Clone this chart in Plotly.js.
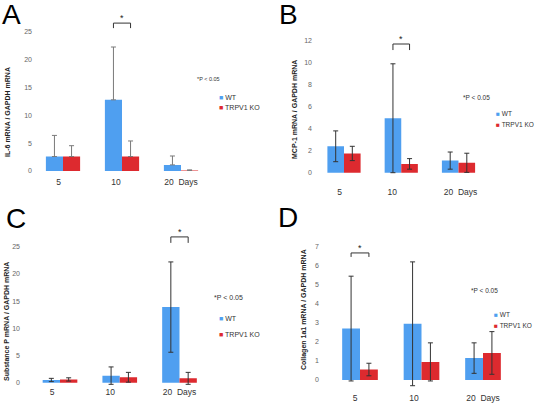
<!DOCTYPE html>
<html>
<head>
<meta charset="utf-8">
<script src="https://cdn.plot.ly/plotly-3.0.1.min.js"></script>
<style>html,body{margin:0;padding:0;background:#fff;}#chart{width:535px;height:408px;}</style>
</head>
<body>
<div id="chart"></div>
<script>
// ---- data ----
const days = ['5', '10', '20\u00a0\u00a0Days'];
const seriesNames = ['WT', 'TRPV1 KO'];
const panelLetters = ['A', 'B', 'C', 'D'];
const yTitles = ['IL-6 mRNA / GAPDH mRNA', 'MCP-1 mRNA / GAPDH mRNA', 'Substance P mRNA / GAPDH mRNA', 'Collagen 1a1 mRNA / GAPDH mRNA'];
const sigText = '*P < 0.05';

const il6WT = [2.6, 12.8, 1.1];
const il6WTerr = [3.8, 9.5, 1.6];
const il6KO = [2.6, 2.6, 0.1];
const il6KOerr = [1.95, 2.8, 0.1];

const mcp1WT = [2.4, 4.95, 1.1];
const mcp1WTerr = [1.4, 4.95, 0.78];
const mcp1KO = [1.75, 0.8, 0.9];
const mcp1KOerr = [0.65, 0.48, 0.87];

const subPWT = [0.5, 1.3, 13.9];
const subPWTerr = [0.3, 1.6, 8.3];
const subPKO = [0.6, 1.0, 0.8];
const subPKOerr = [0.3, 0.9, 1.1];

const colWT = [2.7, 2.95, 1.15];
const colWTerr = [2.75, 3.25, 0.8];
const colKO = [0.55, 0.95, 1.42];
const colKOerr = [0.33, 1.0, 1.12];

// significance: [category index, bracket top value, drop]
const sigA = [1, 26.6, 0.9];
const sigB = [1, 11.7, 0.55];
const sigC = [2, 26.8, 1.1];
const sigD = [0, 6.67, 0.21];

// ---- layout helpers ----
const W = 535, H = 408;
const BLUE = '#4f9ff0', RED = '#dd2a2f';
const FONT = 'Liberation Sans, Arial, sans-serif';

const panels = [
  {wt: il6WT, wte: il6WTerr, ko: il6KO, koe: il6KOerr, sym: false, sig: sigA,
   c0: 63, s: 59, L: 33, R: 211, y0: 171, ppu: 5.56, yr: [-0.3, 27.8], dt: 5,
   toff: [-4.5, -6, 0], ecol: '#7a7a7a', xstand: 3,
   letter: [11, 15], title: [7, 112], p: [208, 79, 5.5], leg: [217, 97, 108, 7]},
  {wt: mcp1WT, wte: mcp1WTerr, ko: mcp1KO, koe: mcp1KOerr, sym: true, sig: sigB,
   c0: 344, s: 57.25, L: 313, R: 487, y0: 172.7, ppu: 11.0, yr: [-0.2, 12.4], dt: 2,
   toff: [-4.5, -9, 2], ecol: '#333', xstand: 11,
   letter: [288, 15], title: [295, 110], p: [476, 97, 6.5], leg: [494, 113, 124, 6.5]},
  {wt: subPWT, wte: subPWTerr, ko: subPKO, koe: subPKOerr, sym: true, sig: sigC,
   c0: 60, s: 59.75, L: 21, R: 209, y0: 382.7, ppu: 5.44, yr: [-0.5, 27.3], dt: 5,
   toff: [-8, -9.5, 0], ecol: '#333', xstand: 11.5,
   letter: [16, 218], title: [6, 322], p: [228, 297, 7], leg: [217, 318, 334, 7]},
  {wt: colWT, wte: colWTerr, ko: colKO, koe: colKOerr, sym: true, sig: sigD,
   c0: 360, s: 61.5, L: 320, R: 514, y0: 380, ppu: 19.05, yr: [-0.4, 7.05], dt: 1,
   toff: [-5, -7.5, 0], ecol: '#333', xstand: 4,
   letter: [288, 217], title: [304, 310], p: [484, 290, 6.5], leg: [492, 314, 325, 6.5]}
];

const px = v => v / W;
const py = v => 1 - v / H;

const data = [];
const layout = {
  width: W, height: H,
  margin: {l: 0, r: 0, t: 0, b: 0},
  paper_bgcolor: '#fff', plot_bgcolor: '#fff',
  showlegend: false,
  barmode: 'group', bargap: 0.42, bargroupgap: 0,
  font: {family: FONT, color: '#333'},
  shapes: [], annotations: []
};

const idx = days.map((_, i) => i);

panels.forEach((P, k) => {
  const n = k === 0 ? '' : String(k + 1);
  const xa = 'x' + n, ya = 'y' + n;
  const bottom = P.y0 - P.yr[0] * P.ppu;
  const top = P.y0 - P.yr[1] * P.ppu;
  layout['xaxis' + n] = {
    domain: [px(P.L), px(P.R)],
    range: [(P.L - P.c0) / P.s, (P.R - P.c0) / P.s],
    anchor: ya, showgrid: false, zeroline: false, showline: false, ticks: '',
    tickmode: 'array',
    tickvals: idx.map(i => i + P.toff[i] / P.s),
    ticktext: days,
    ticklabelstandoff: P.xstand,
    tickfont: {size: 8.5, color: '#333', family: FONT},
    fixedrange: true
  };
  layout['yaxis' + n] = {
    domain: [py(bottom), py(top)],
    range: P.yr,
    anchor: xa, showgrid: false, zeroline: false, showline: false, ticks: '',
    tick0: 0, dtick: P.dt,
    tickfont: {size: 7, color: '#666', family: FONT},
    fixedrange: true
  };
  const mk = (vals, errs, col, name) => ({
    type: 'bar', x: idx, y: vals, name: name, xaxis: xa, yaxis: ya,
    marker: {color: col, line: {width: 0}},
    error_y: P.sym
      ? {type: 'data', array: errs, symmetric: true, color: P.ecol, thickness: 1, width: 2.5}
      : {type: 'data', array: errs, arrayminus: errs.map(() => 0), symmetric: false, color: P.ecol, thickness: 1, width: 2.5},
    hoverinfo: 'skip'
  });
  data.push(mk(P.wt, P.wte, BLUE, seriesNames[0]));
  data.push(mk(P.ko, P.koe, RED, seriesNames[1]));

  // significance bracket
  const half = (1 - layout.bargap) / 4;
  const [ci, yt, drop] = P.sig;
  layout.shapes.push({
    type: 'path', xref: xa, yref: ya,
    path: `M ${ci - half},${yt - drop} L ${ci - half},${yt} L ${ci + half},${yt} L ${ci + half},${yt - drop}`,
    line: {color: '#333', width: 1}
  });
  layout.annotations.push({
    xref: xa, yref: ya, x: ci, y: yt, yanchor: 'bottom', xanchor: 'center',
    text: '*', showarrow: false, font: {size: 9, color: '#222', family: FONT}, yshift: -2
  });

  // panel letter
  layout.annotations.push({
    xref: 'paper', yref: 'paper', x: px(P.letter[0]), y: py(P.letter[1]),
    xanchor: 'center', yanchor: 'middle', text: panelLetters[k], showarrow: false,
    font: {size: 28, color: '#000', family: FONT}
  });
  // y title
  layout.annotations.push({
    xref: 'paper', yref: 'paper', x: px(P.title[0]), y: py(P.title[1]),
    xanchor: 'center', yanchor: 'middle', text: yTitles[k], textangle: -90, showarrow: false,
    font: {size: 7, color: '#222', family: FONT, weight: 'bold'}
  });
  // p-value note
  layout.annotations.push({
    xref: 'paper', yref: 'paper', x: px(P.p[0]), y: py(P.p[1]),
    xanchor: 'center', yanchor: 'middle', text: sigText, showarrow: false,
    font: {size: P.p[2], color: '#333', family: FONT}
  });
  // legend
  [[BLUE, seriesNames[0], P.leg[1]], [RED, seriesNames[1], P.leg[2]]].forEach(([c, t, yy]) => {
    layout.annotations.push({
      xref: 'paper', yref: 'paper', x: px(P.leg[0]), y: py(yy),
      xanchor: 'left', yanchor: 'middle', showarrow: false,
      text: `<span style="color:${c}">\u25A0</span> ${t}`,
      font: {size: P.leg[3], color: '#333', family: FONT}
    });
  });
});

Plotly.newPlot('chart', data, layout, {staticPlot: true, displayModeBar: false});
</script>
</body>
</html>
